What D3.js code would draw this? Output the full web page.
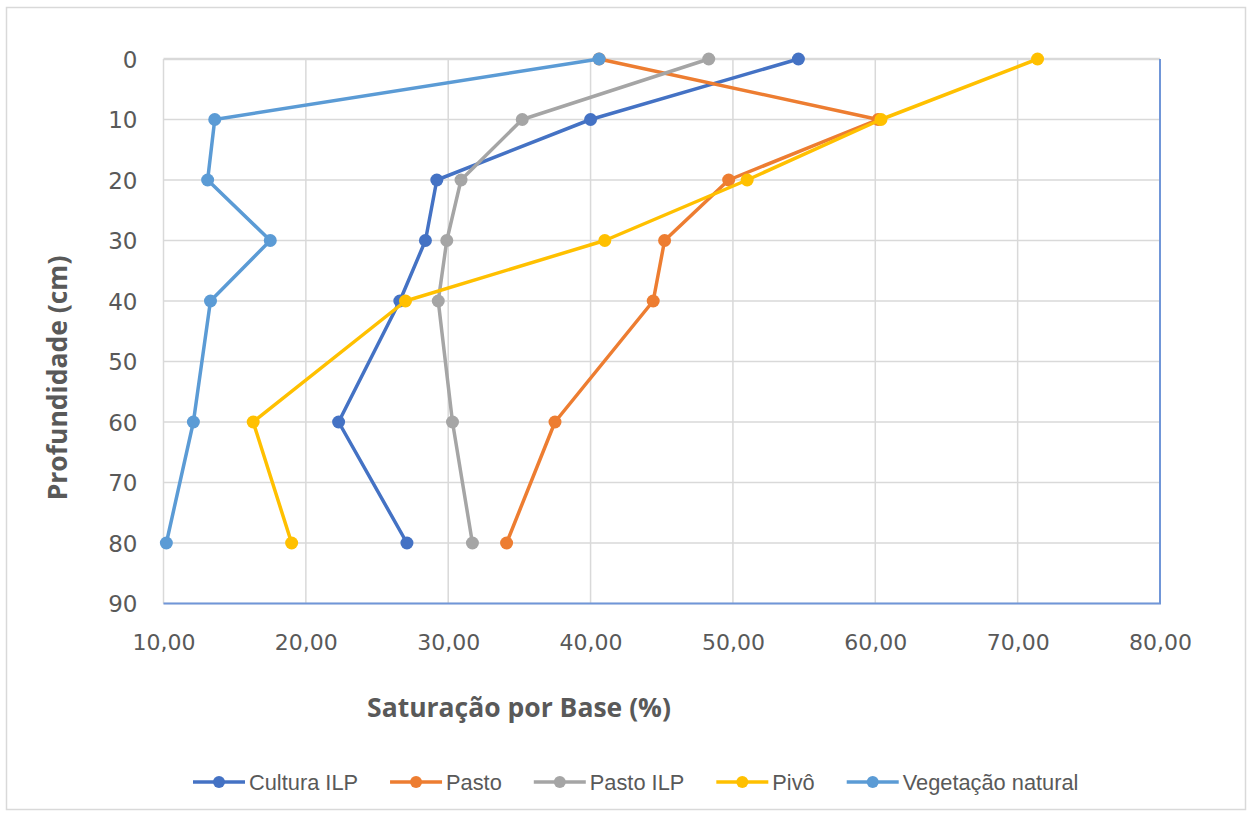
<!DOCTYPE html>
<html>
<head>
<meta charset="utf-8">
<script src="https://cdn.jsdelivr.net/npm/d3@7"></script>
<style>
  html, body { margin: 0; padding: 0; background: #fff; }
  svg { display: block; }
</style>
</head>
<body>
<svg id="chart" width="1252" height="816"></svg>
<script>
// Depth of each sampling layer (cm)
const depths = [0, 10, 20, 30, 40, 60, 80];

// Base saturation (%) per management system, one value per depth
const culturaILP = [54.6, 40.0, 29.2, 28.4, 26.6, 22.3, 27.1];
const pasto      = [40.6, 60.2, 49.7, 45.2, 44.4, 37.5, 34.1];
const pastoILP   = [48.3, 35.2, 30.9, 29.9, 29.3, 30.3, 31.7];
const pivo       = [71.4, 60.4, 51.0, 41.0, 27.0, 16.3, 19.0];
const vegNatural = [40.6, 13.6, 13.1, 17.5, 13.3, 12.1, 10.2];

const seriesNames = ["Cultura ILP", "Pasto", "Pasto ILP", "Pivô", "Vegetação natural"];
const seriesValues = [culturaILP, pasto, pastoILP, pivo, vegNatural];
const seriesColors = ["#4472C4", "#ED7D31", "#A5A5A5", "#FFC000", "#5B9BD5"];

const xTicks = [10, 20, 30, 40, 50, 60, 70, 80];
const yTicks = [0, 10, 20, 30, 40, 50, 60, 70, 80, 90];

const xTitle = "Saturação por Base (%)";
const yTitle = "Profundidade (cm)";

const svg = d3.select("#chart");
const textColor = "#595959";

// chart frame
svg.append("rect")
  .attr("x", 6.5).attr("y", 7.5)
  .attr("width", 1239).attr("height", 802)
  .attr("fill", "#fff").attr("stroke", "#D9D9D9").attr("stroke-width", 1.5);

const plot = { left: 163.5, right: 1160, top: 59, bottom: 603.5 };

const x = d3.scaleLinear().domain([10, 80]).range([plot.left, plot.right]);
const y = d3.scaleLinear().domain([0, 90]).range([plot.top, plot.bottom]);

// gridlines
const grid = svg.append("g");
grid.selectAll(".vg").data(xTicks).join("line")
  .attr("x1", d => x(d)).attr("x2", d => x(d))
  .attr("y1", plot.top).attr("y2", plot.bottom)
  .attr("stroke", "#D9D9D9").attr("stroke-width", 1.5);
grid.selectAll(".hg").data(yTicks).join("line")
  .attr("x1", plot.left).attr("x2", plot.right)
  .attr("y1", d => y(d)).attr("y2", d => y(d))
  .attr("stroke", "#D9D9D9").attr("stroke-width", d => d === 0 ? 2.5 : 1.5);

// axis lines (bottom and right)
svg.append("line")
  .attr("x1", plot.left).attr("x2", plot.right + 1)
  .attr("y1", plot.bottom).attr("y2", plot.bottom)
  .attr("stroke", "#7096D8").attr("stroke-width", 2);
svg.append("line")
  .attr("x1", plot.right).attr("x2", plot.right)
  .attr("y1", plot.top).attr("y2", plot.bottom)
  .attr("stroke", "#7096D8").attr("stroke-width", 2);

// x axis labels
const xAxis = d3.axisBottom(x).tickValues(xTicks)
  .tickFormat(d => d3.format(".2f")(d).replace(".", ","))
  .tickSize(0).tickPadding(0);
const gx = svg.append("g").attr("transform", `translate(0,${plot.bottom})`).call(xAxis);
gx.select(".domain").remove();
gx.selectAll("text")
  .attr("y", 46).attr("dy", 0)
  .attr("fill", textColor)
  .style("font-family", "DejaVu Sans, sans-serif")
  .style("font-size", "22px");

// y axis labels
const yAxis = d3.axisLeft(y).tickValues(yTicks).tickFormat(d3.format("d"))
  .tickSize(0).tickPadding(0);
const gy = svg.append("g").attr("transform", `translate(${plot.left},0)`).call(yAxis);
gy.select(".domain").remove();
gy.selectAll("text")
  .attr("x", -26).attr("dy", "0.36em")
  .attr("fill", textColor)
  .style("font-family", "DejaVu Sans, sans-serif")
  .style("font-size", "23px");

// axis titles
svg.append("text")
  .attr("x", 519).attr("y", 717)
  .attr("text-anchor", "middle")
  .attr("fill", textColor)
  .style("font-family", "Open Sans, sans-serif")
  .style("font-weight", "bold")
  .style("font-size", "26.5px")
  .text(xTitle);

svg.append("text")
  .attr("transform", "translate(67,378) rotate(-90)")
  .attr("text-anchor", "middle")
  .attr("fill", textColor)
  .style("font-family", "Open Sans, sans-serif")
  .style("font-weight", "bold")
  .style("font-size", "26.5px")
  .text(yTitle);

// series lines and markers
const line = d3.line().x(d => x(d.v)).y(d => y(d.d));
seriesNames.forEach((name, i) => {
  const pts = depths.map((d, j) => ({ d, v: seriesValues[i][j] }));
  const g = svg.append("g");
  g.append("path")
    .datum(pts)
    .attr("d", line)
    .attr("fill", "none")
    .attr("stroke", seriesColors[i])
    .attr("stroke-width", 3.5)
    .attr("stroke-linejoin", "round");
  g.selectAll("circle").data(pts).join("circle")
    .attr("cx", d => x(d.v)).attr("cy", d => y(d.d))
    .attr("r", 6.5)
    .attr("fill", seriesColors[i]);
});

// legend
const legend = svg.append("g");
const legendY = 782;
const itemGap = 32;
let cursor = 193;
seriesNames.forEach((name, i) => {
  const g = legend.append("g").attr("transform", `translate(${cursor},${legendY})`);
  g.append("line").attr("x1", 0).attr("x2", 52).attr("y1", 0).attr("y2", 0)
    .attr("stroke", seriesColors[i]).attr("stroke-width", 3.5);
  g.append("circle").attr("cx", 26).attr("cy", 0).attr("r", 6).attr("fill", seriesColors[i]);
  const t = g.append("text").attr("x", 56).attr("y", 0).attr("dy", "0.36em")
    .attr("fill", textColor)
    .style("font-family", "Liberation Sans, Arial, sans-serif")
    .style("font-size", "21.8px")
    .text(name);
  cursor += 56 + t.node().getComputedTextLength() + itemGap;
});
</script>
</body>
</html>
